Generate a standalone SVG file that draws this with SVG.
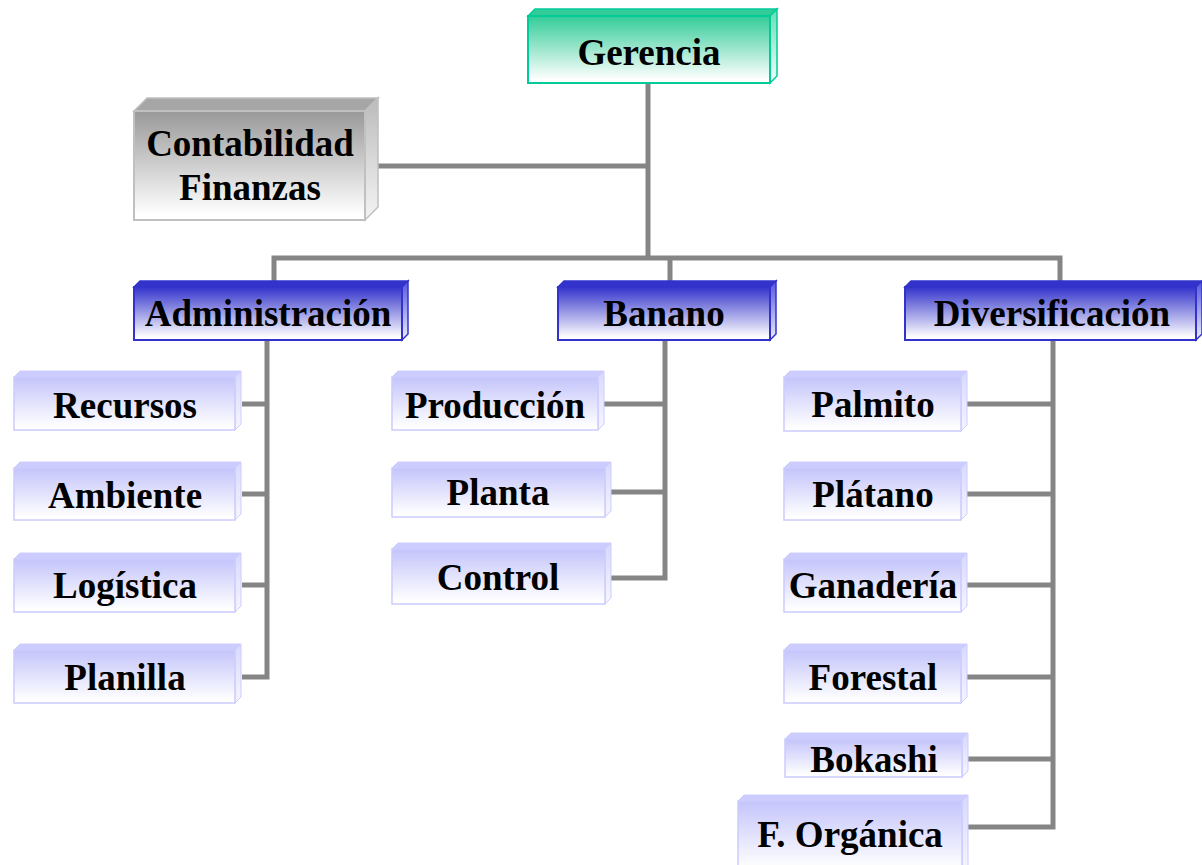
<svg xmlns="http://www.w3.org/2000/svg" width="1202" height="865" viewBox="0 0 1202 865">
<defs>
<linearGradient id="gGreen" x1="0" y1="0" x2="0" y2="1"><stop offset="0" stop-color="#33cc99"/><stop offset="0.95" stop-color="#ffffff"/></linearGradient>
<linearGradient id="gGreenS" x1="0" y1="0" x2="0" y2="1"><stop offset="0" stop-color="#66ddb3"/><stop offset="1" stop-color="#f4fffa"/></linearGradient>
<linearGradient id="gBlue" x1="0" y1="0" x2="0" y2="1"><stop offset="0" stop-color="#3333cc"/><stop offset="0.95" stop-color="#ffffff"/></linearGradient>
<linearGradient id="gBlueS" x1="0" y1="0" x2="0" y2="1"><stop offset="0" stop-color="#5555dd"/><stop offset="1" stop-color="#eeeeff"/></linearGradient>
<linearGradient id="gLav" x1="0" y1="0" x2="0" y2="1"><stop offset="0" stop-color="#c4c4fb"/><stop offset="0.95" stop-color="#ffffff"/></linearGradient>
<linearGradient id="gLavS" x1="0" y1="0" x2="0" y2="1"><stop offset="0" stop-color="#d8d8ff"/><stop offset="1" stop-color="#f6f6ff"/></linearGradient>
<linearGradient id="gGray" x1="0" y1="0" x2="0" y2="1"><stop offset="0" stop-color="#999999"/><stop offset="0.95" stop-color="#ffffff"/></linearGradient>
<linearGradient id="gGrayS" x1="0" y1="0" x2="0" y2="1"><stop offset="0" stop-color="#bbbbbb"/><stop offset="1" stop-color="#f4f4f4"/></linearGradient>
</defs>
<style>
text{font-family:"Liberation Serif","Times New Roman",serif;font-weight:bold;font-size:37px;fill:#000;text-anchor:middle}
.green .f{fill:url(#gGreen);stroke:#00cc99;stroke-width:2}
.green .t{fill:#33cc99;stroke:#00cc99;stroke-width:1.5}
.green .s{fill:url(#gGreenS);stroke:#00cc99;stroke-width:1.5}
.blue .f{fill:url(#gBlue);stroke:#3333cc;stroke-width:2}
.blue .t{fill:#3333cc;stroke:#3333cc;stroke-width:1.5}
.blue .s{fill:url(#gBlueS);stroke:#3333cc;stroke-width:1.5}
.lav .f{fill:url(#gLav);stroke:#ccccff;stroke-width:1.5}
.lav .t{fill:#ccccff;stroke:#ccccff;stroke-width:1}
.lav .s{fill:url(#gLavS);stroke:#ccccff;stroke-width:1}
.gray .f{fill:url(#gGray);stroke:#c0c0c0;stroke-width:2}
.gray .t{fill:#a6a6a6;stroke:#c0c0c0;stroke-width:1.5}
.gray .s{fill:url(#gGrayS);stroke:#c0c0c0;stroke-width:1.5}
.c{fill:none;stroke:#858585;stroke-width:5;stroke-linejoin:miter;stroke-linecap:butt}
</style>
<g id="connectors">
<path class="c" d="M648,83 V258"/>
<path class="c" d="M378,166 H648"/>
<path class="c" d="M274,281 V258 H1060 V281"/>
<path class="c" d="M670,258 V281"/>
<path class="c" d="M242,404 H267"/>
<path class="c" d="M242,494 H267"/>
<path class="c" d="M242,585 H267"/>
<path class="c" d="M242,677 H267 V340"/>
<path class="c" d="M604,404 H665"/>
<path class="c" d="M611,492 H665"/>
<path class="c" d="M611,578 H665 V340"/>
<path class="c" d="M967,404 H1053"/>
<path class="c" d="M967,494 H1053"/>
<path class="c" d="M967,585 H1053"/>
<path class="c" d="M967,677 H1053"/>
<path class="c" d="M968,759 H1053"/>
<path class="c" d="M968,827 H1053 V340"/>
</g>
<g id="gerencia" class="green">
<polygon class="t" points="528,16 535,9 777,9 770,16"/>
<polygon class="s" points="770,16 777,9 777,76 770,83"/>
<rect class="f" x="528" y="16" width="242" height="67"/>
<text x="649" y="65">Gerencia</text>
</g>
<g id="contabilidad" class="gray">
<polygon class="t" points="134,111 147,98 378,98 365,111"/>
<polygon class="s" points="365,111 378,98 378,207 365,220"/>
<rect class="f" x="134" y="111" width="231" height="109"/>
<text x="250" y="156">Contabilidad</text>
<text x="250" y="200">Finanzas</text>
</g>
<g id="administracion" class="blue">
<polygon class="t" points="134,287 140,281 408,281 402,287"/>
<polygon class="s" points="402,287 408,281 408,334 402,340"/>
<rect class="f" x="134" y="287" width="268" height="53"/>
<text x="268" y="326">Administración</text>
</g>
<g id="banano" class="blue">
<polygon class="t" points="558,287 564,281 776,281 770,287"/>
<polygon class="s" points="770,287 776,281 776,334 770,340"/>
<rect class="f" x="558" y="287" width="212" height="53"/>
<text x="664" y="326">Banano</text>
</g>
<g id="diversificacion" class="blue">
<polygon class="t" points="905,287 911,281 1202,281 1196,287"/>
<polygon class="s" points="1196,287 1202,281 1202,334 1196,340"/>
<rect class="f" x="905" y="287" width="291" height="53"/>
<text x="1052" y="326">Diversificación</text>
</g>
<g id="recursos" class="lav">
<polygon class="t" points="14,377 20,371 241,371 235,377"/>
<polygon class="s" points="235,377 241,371 241,424 235,430"/>
<rect class="f" x="14" y="377" width="221" height="53"/>
<text x="125" y="418">Recursos</text>
</g>
<g id="ambiente" class="lav">
<polygon class="t" points="14,468 20,462 241,462 235,468"/>
<polygon class="s" points="235,468 241,462 241,514 235,520"/>
<rect class="f" x="14" y="468" width="221" height="52"/>
<text x="125" y="508">Ambiente</text>
</g>
<g id="logistica" class="lav">
<polygon class="t" points="14,559 20,553 241,553 235,559"/>
<polygon class="s" points="235,559 241,553 241,606 235,612"/>
<rect class="f" x="14" y="559" width="221" height="53"/>
<text x="125" y="598">Logística</text>
</g>
<g id="planilla" class="lav">
<polygon class="t" points="14,650 20,644 241,644 235,650"/>
<polygon class="s" points="235,650 241,644 241,697 235,703"/>
<rect class="f" x="14" y="650" width="221" height="53"/>
<text x="125" y="690">Planilla</text>
</g>
<g id="produccion" class="lav">
<polygon class="t" points="392,377 398,371 604,371 598,377"/>
<polygon class="s" points="598,377 604,371 604,424 598,430"/>
<rect class="f" x="392" y="377" width="206" height="53"/>
<text x="495" y="418">Producción</text>
</g>
<g id="planta" class="lav">
<polygon class="t" points="392,468 398,462 611,462 605,468"/>
<polygon class="s" points="605,468 611,462 611,511 605,517"/>
<rect class="f" x="392" y="468" width="213" height="49"/>
<text x="498" y="505">Planta</text>
</g>
<g id="control" class="lav">
<polygon class="t" points="392,549 398,543 611,543 605,549"/>
<polygon class="s" points="605,549 611,543 611,598 605,604"/>
<rect class="f" x="392" y="549" width="213" height="55"/>
<text x="498" y="590">Control</text>
</g>
<g id="palmito" class="lav">
<polygon class="t" points="784,377 790,371 967,371 961,377"/>
<polygon class="s" points="961,377 967,371 967,425 961,431"/>
<rect class="f" x="784" y="377" width="177" height="54"/>
<text x="873" y="417">Palmito</text>
</g>
<g id="platano" class="lav">
<polygon class="t" points="784,468 790,462 967,462 961,468"/>
<polygon class="s" points="961,468 967,462 967,514 961,520"/>
<rect class="f" x="784" y="468" width="177" height="52"/>
<text x="873" y="507">Plátano</text>
</g>
<g id="ganaderia" class="lav">
<polygon class="t" points="784,559 790,553 967,553 961,559"/>
<polygon class="s" points="961,559 967,553 967,606 961,612"/>
<rect class="f" x="784" y="559" width="177" height="53"/>
<text x="873" y="598">Ganadería</text>
</g>
<g id="forestal" class="lav">
<polygon class="t" points="784,650 790,644 967,644 961,650"/>
<polygon class="s" points="961,650 967,644 967,697 961,703"/>
<rect class="f" x="784" y="650" width="177" height="53"/>
<text x="873" y="690">Forestal</text>
</g>
<g id="bokashi" class="lav">
<polygon class="t" points="785,739 791,733 968,733 962,739"/>
<polygon class="s" points="962,739 968,733 968,771 962,777"/>
<rect class="f" x="785" y="739" width="177" height="38"/>
<text x="874" y="772">Bokashi</text>
</g>
<g id="forganica" class="lav">
<polygon class="t" points="738,801 744,795 968,795 962,801"/>
<polygon class="s" points="962,801 968,795 968,866 962,872"/>
<rect class="f" x="738" y="801" width="224" height="71"/>
<text x="850" y="847">F. Orgánica</text>
</g>
</svg>
